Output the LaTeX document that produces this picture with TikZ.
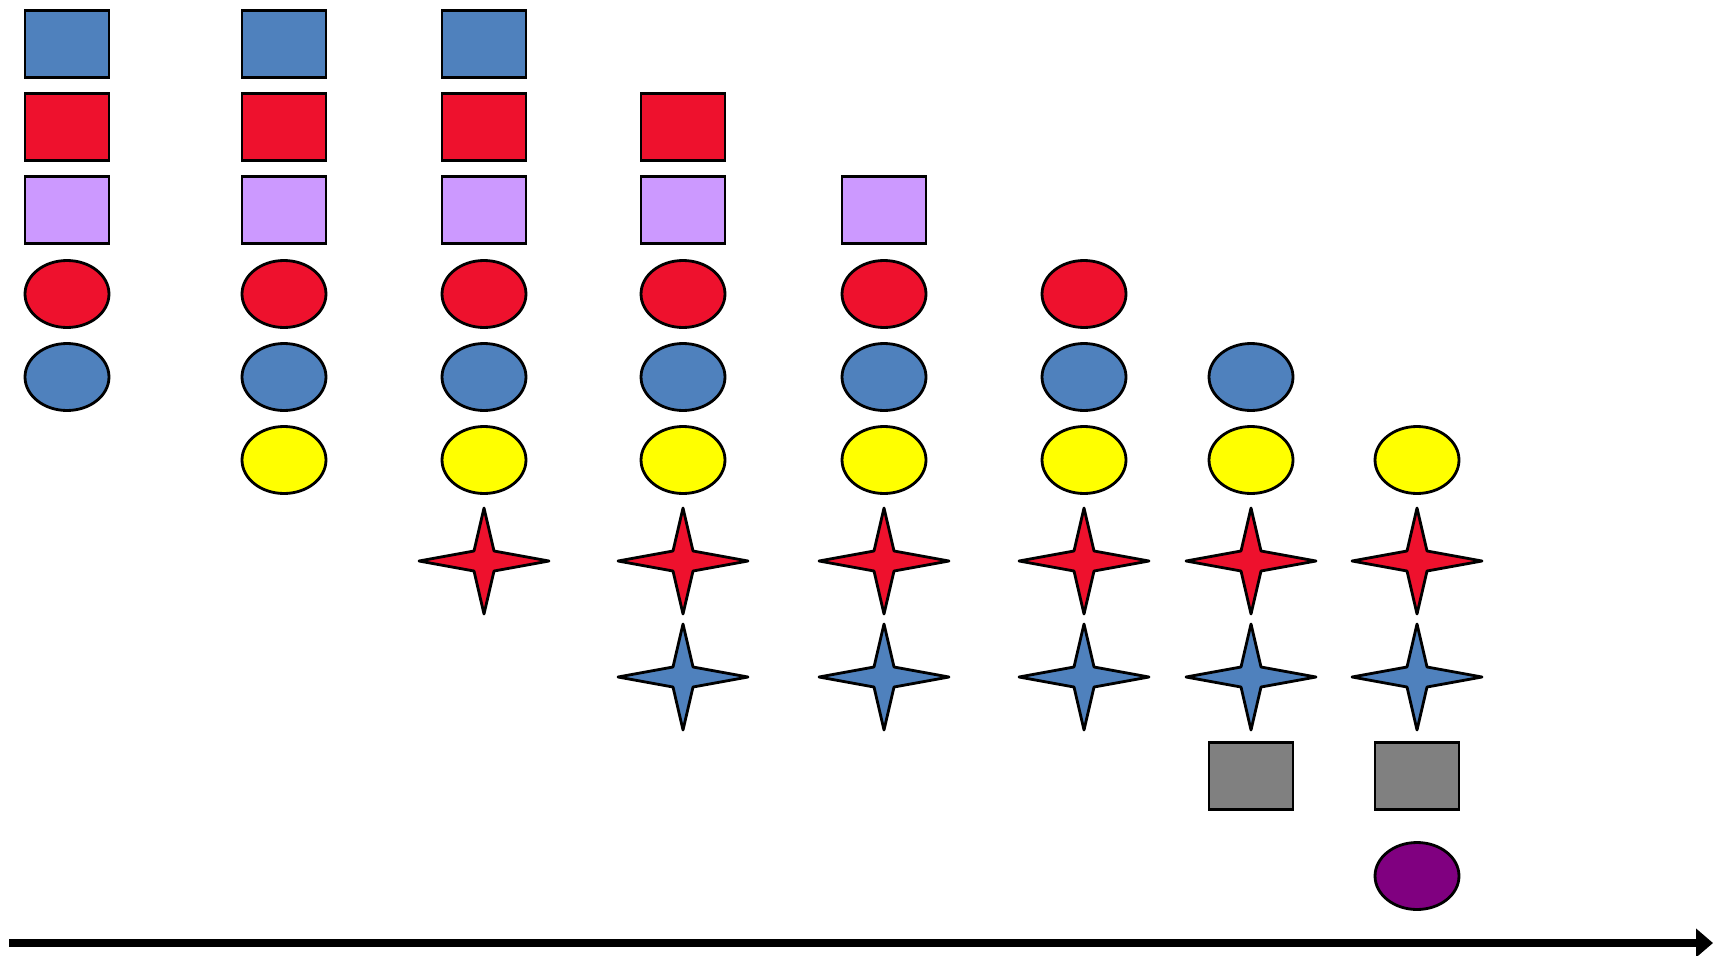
\documentclass[tikz,border=0pt]{standalone}
\usetikzlibrary{shapes.geometric,arrows.meta}

\definecolor{shblue}{HTML}{4F81BD}
\definecolor{shred}{HTML}{EE112D}
\definecolor{shlilac}{HTML}{CC99FF}
\definecolor{shyellow}{HTML}{FFFF00}
\definecolor{shgrey}{HTML}{808080}
\definecolor{shpurple}{HTML}{800080}

\tikzset{
	fourstar/.pic={
		\draw[line width=1.6pt, line join=round, fill=#1] (0,-53) -- (10,-10) -- (65,0) -- (10,10) -- (0,53) -- (-10,10) -- (-65,0) -- (-10,-10) -- cycle;
	}
}

\begin{document}
\begin{tikzpicture}[
	x=0.02cm, y=-0.02cm,
	sqr/.style={ rectangle, draw, line width=1.6pt, inner sep=0pt, minimum width=1.68cm, minimum height=1.34cm },
	ell/.style={ ellipse, draw, line width=1.6pt, inner sep=0pt, minimum width=1.68cm, minimum height=1.34cm }
]
\useasboundingbox (0,0) rectangle (1713,956);

% blue squares
\foreach \c/\x in {1/67,2/284,3/484}
	\node at (\x,44) (bs\c) [sqr,fill=shblue] {};

% red squares
\foreach \c/\x in {1/67,2/284,3/484,4/683}
	\node at (\x,127) (rs\c) [sqr,fill=shred] {};

% lilac squares
\foreach \c/\x in {1/67,2/284,3/484,4/683,5/884}
	\node at (\x,210) (ls\c) [sqr,fill=shlilac] {};

% red ellipses
\foreach \c/\x in {1/67,2/284,3/484,4/683,5/884,6/1084}
	\node at (\x,294) (re\c) [ell,fill=shred] {};

% blue ellipses
\foreach \c/\x in {1/67,2/284,3/484,4/683,5/884,6/1084,7/1251}
	\node at (\x,377) (be\c) [ell,fill=shblue] {};

% yellow ellipses
\foreach \c/\x in {2/284,3/484,4/683,5/884,6/1084,7/1251,8/1417}
	\node at (\x,460) (ye\c) [ell,fill=shyellow] {};

% red stars
\foreach \c/\x in {3/484,4/683,5/884,6/1084,7/1251,8/1417}
	\pic (rst\c) at (\x,561) {fourstar=shred};

% blue stars
\foreach \c/\x in {4/683,5/884,6/1084,7/1251,8/1417}
	\pic (bst\c) at (\x,677) {fourstar=shblue};

% grey squares
\node at (1251,776) (gs7) [sqr,fill=shgrey] {};
\node at (1417,776) (gs8) [sqr,fill=shgrey] {};

% purple ellipse
\node at (1417,876) (pe8) [ell,fill=shpurple] {};

% time axis
\coordinate (tstart) at (9,943);
\coordinate (tend) at (1713,943);
\draw[line width=0.16cm, -{Triangle[length=0.34cm,width=0.56cm]}] (tstart) -- (tend);

\end{tikzpicture}
\end{document}
